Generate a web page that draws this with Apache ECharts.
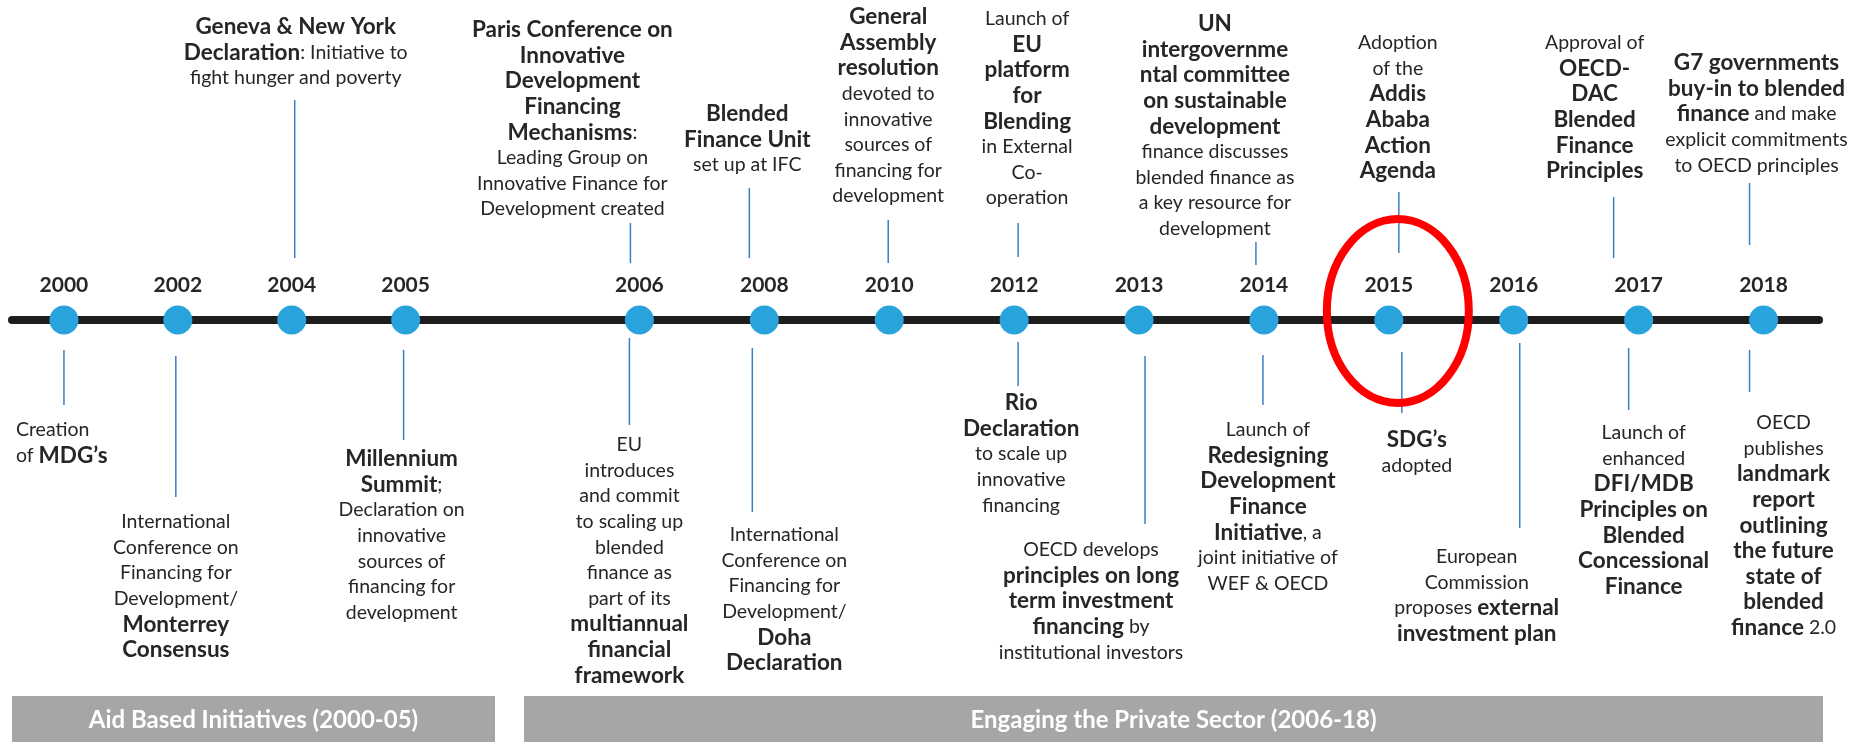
<!DOCTYPE html>
<html><head><meta charset="utf-8">
<script src="https://cdn.jsdelivr.net/npm/echarts@6/dist/echarts.min.js"></script>
<style>html,body{margin:0;padding:0;background:#fff}#c{width:1856px;height:742px}</style>
</head><body><div id="c"></div>
<script>
// ---------- DATA ----------
// Two eras, each drawn as its own timeline panel
const eraNames = ['Aid Based Initiatives (2000-05)', 'Engaging the Private Sector (2006-18)'];
const eraYears = [
  ['2000','2002','2004','2005'],
  ['2006','2008','2010','2012','2013','2014','2015','2016','2017','2018']
];

const aboveYears = ['2004','2006','2008','2010','2012','2014','2015','2017','2018'];
const aboveTexts = [
  ['{b|Geneva & New York}', '{b|Declaration}: Initiative to', 'fight hunger and poverty'],
  ['{b|Paris Conference on}', '{b|Innovative}', '{b|Development}', '{b|Financing}', '{b|Mechanisms}:', 'Leading Group on', 'Innovative Finance for', 'Development created'],
  ['{b|Blended}', '{b|Finance Unit}', 'set up at IFC'],
  ['{b|General}', '{b|Assembly}', '{b|resolution}', 'devoted to', 'innovative', 'sources of', 'financing for', 'development'],
  ['Launch of', '{b|EU}', '{b|platform}', '{b|for}', '{b|Blending}', 'in External', 'Co-', 'operation'],
  ['{b|UN}', '{b|intergovernme}', '{b|ntal committee}', '{b|on sustainable}', '{b|development}', 'finance discusses', 'blended finance as', 'a key resource for', 'development'],
  ['Adoption', 'of the', '{b|Addis}', '{b|Ababa}', '{b|Action}', '{b|Agenda}'],
  ['Approval of', '{b|OECD-}', '{b|DAC}', '{b|Blended}', '{b|Finance}', '{b|Principles}'],
  ['{b|G7 governments}', '{b|buy-in to blended}', '{b|finance} and make', 'explicit commitments', 'to OECD principles']
];

const belowYears = ['2000','2002','2005','2006','2008','2012','2013','2014','2015','2016','2017','2018'];
const belowTexts = [
  ['Creation', 'of {b|MDG\u2019s}'],
  ['International', 'Conference on', 'Financing for', 'Development/', '{b|Monterrey}', '{b|Consensus}'],
  ['{b|Millennium}', '{b|Summit};', 'Declaration on', 'innovative', 'sources of', 'financing for', 'development'],
  ['EU', 'introduces', 'and commit', 'to scaling up', 'blended', 'finance as', 'part of its', '{b|multiannual}', '{b|financial}', '{b|framework}'],
  ['International', 'Conference on', 'Financing for', 'Development/', '{b|Doha}', '{b|Declaration}'],
  ['{b|Rio}', '{b|Declaration}', 'to scale up', 'innovative', 'financing'],
  ['OECD develops', '{b|principles on long}', '{b|term investment}', '{b|financing} by', 'institutional investors'],
  ['Launch of', '{b|Redesigning}', '{b|Development}', '{b|Finance}', '{b|Initiative}, a', 'joint initiative of', 'WEF & OECD'],
  ['{b|SDG\u2019s}', 'adopted'],
  ['European', 'Commission', 'proposes {b|external}', '{b|investment plan}'],
  ['Launch of', 'enhanced', '{b|DFI/MDB}', '{b|Principles on}', '{b|Blended}', '{b|Concessional}', '{b|Finance}'],
  ['OECD', 'publishes', '{b|landmark}', '{b|report}', '{b|outlining}', '{b|the future}', '{b|state of}', '{b|blended}', '{b|finance} 2.0']
];

const highlightYear = '2015';

// ---------- LAYOUT (pixel offsets relative to each dot) ----------
// dx: text centre offset, ty: first line centre, c1/c2: connector ends, cdx: connector x offset
const aboveLayout = [
  {dx:4,   ty:-293, c1:-220, c2:-62, cdx:3},
  {dx:-67, ty:-290, c1:-97,  c2:-57, cdx:-9},
  {dx:-17, ty:-206, c1:-132, c2:-62, cdx:-15},
  {dx:-1,  ty:-303, c1:-100, c2:-57, cdx:-1},
  {dx:13,  ty:-301, c1:-97,  c2:-63, cdx:4},
  {dx:-49, ty:-296, c1:-78,  c2:-55, cdx:-8},
  {dx:9,   ty:-277, c1:-128, c2:-67, cdx:10},
  {dx:-44, ty:-277, c1:-123, c2:-62, cdx:-25},
  {dx:-7,  ty:-257, c1:-137, c2:-75, cdx:-14}
];
const belowLayout = [
  {dx:-48, ty:110, c1:30, c2:85,  cdx:0, align:'left'},
  {dx:-2,  ty:202, c1:36, c2:177, cdx:-2},
  {dx:-4,  ty:139, c1:30, c2:120, cdx:-2},
  {dx:-10, ty:125, c1:18, c2:105, cdx:-10},
  {dx:20,  ty:215, c1:28, c2:192, cdx:-12},
  {dx:7,   ty:83,  c1:22, c2:66,  cdx:4},
  {dx:-48, ty:230, c1:36, c2:204, cdx:6},
  {dx:4,   ty:110, c1:35, c2:85,  cdx:-1},
  {dx:28,  ty:120, c1:32, c2:93,  cdx:13},
  {dx:-37, ty:237, c1:23, c2:208, cdx:6},
  {dx:5,   ty:113, c1:28, c2:90,  cdx:-10},
  {dx:20,  ty:103, c1:30, c2:72,  cdx:-14}
];
const eraBandPad = [[0, -22], [7, 4]];

const FONT = 'Lato';
const LH = 25.6;
const TEXT_COLOR = '#262626';
const DOT_COLOR = '#29a3dc';
const CONN_COLOR = '#3a7fc4';

// ---------- BUILD ----------
function eraOf(year) { return eraYears[0].indexOf(year) >= 0 ? 0 : 1; }
function slotOf(year) { return eraYears[eraOf(year)].indexOf(year); }

const events = [];
aboveYears.forEach((y, i) => events.push({year:y, lines:aboveTexts[i], lay:aboveLayout[i]}));
belowYears.forEach((y, i) => events.push({year:y, lines:belowTexts[i], lay:belowLayout[i]}));

const axisLineStyle = {show:true, onZero:true, lineStyle:{color:'#1e1e1e', width:8}};
const xAxisBase = {type:'value', splitLine:{show:false}, axisTick:{show:false}, axisLabel:{show:false}, axisLine:axisLineStyle};

const series = [];
[0, 1].forEach(era => {
  // era band
  series.push({
    type: 'custom', z: 1, xAxisIndex: era, yAxisIndex: era,
    data: [[0, 0, era]],
    encode: {x: 0, y: 1},
    renderItem: function (params, api) {
      const cs = params.coordSys;
      const i = api.value(2);
      const ly = api.coord([0, 0])[1];
      const x1 = cs.x + eraBandPad[i][0], x2 = cs.x + cs.width + eraBandPad[i][1];
      return {type:'group', children:[
        {type:'rect', shape:{x:x1, y:ly+376, width:x2-x1, height:50}, style:{fill:'#a6a6a6'}},
        {type:'text', x:(x1+x2)/2, y:ly+400, style:{text:eraNames[i], fill:'#ffffff', fontFamily:FONT, fontWeight:'bold', fontSize:24, align:'center', verticalAlign:'middle'}}
      ]};
    }
  });
  // annotations + connectors
  series.push({
    type: 'custom', z: 2, xAxisIndex: era, yAxisIndex: era,
    data: events.map((e, i) => [slotOf(e.year), 0, i]).filter((d, i) => eraOf(events[i].year) === era),
    encode: {x: 0, y: 1},
    renderItem: function (params, api) {
      const ev = events[api.value(2)];
      const p = api.coord([api.value(0), 0]);
      const L = ev.lay;
      const cx = p[0] + L.cdx;
      return {type:'group', children:[
        {type:'line', shape:{x1:cx, y1:p[1]+L.c1, x2:cx, y2:p[1]+L.c2}, style:{stroke:CONN_COLOR, lineWidth:1.5}},
        {type:'text', x:p[0]+L.dx, y:p[1]+L.ty-LH/2, style:{
          text: ev.lines.join('\n'), fill:TEXT_COLOR, fontFamily:FONT, fontSize:19.5, lineHeight:LH,
          align: L.align || 'center', verticalAlign:'top',
          rich: {b: {fontWeight:'bold', fontFamily:FONT, fontSize:22.5, lineHeight:LH, fill:TEXT_COLOR}}
        }}
      ]};
    }
  });
  // dots + year labels
  series.push({
    type: 'scatter', z: 3, xAxisIndex: era, yAxisIndex: era,
    data: eraYears[era].map((y, i) => ({name: y, value: [i, 0]})),
    symbolSize: 29,
    itemStyle: {color: DOT_COLOR, opacity: 1},
    label: {show:true, position:'top', distance:10, formatter: p => p.name,
      fontFamily:FONT, fontWeight:'bold', fontSize:21, color:TEXT_COLOR}
  });
});
// highlight ellipse
series.push({
  type: 'custom', z: 4, xAxisIndex: eraOf(highlightYear), yAxisIndex: eraOf(highlightYear),
  data: [[slotOf(highlightYear), 0]],
  encode: {x: 0, y: 1},
  renderItem: function (params, api) {
    const p = api.coord([api.value(0), 0]);
    return {type:'ellipse', shape:{cx:p[0]+9, cy:p[1]-9, rx:71, ry:92}, style:{fill:null, stroke:'#ff0000', lineWidth:8}};
  }
});

const chart = echarts.init(document.getElementById('c'), null, {renderer:'canvas'});
chart.setOption({
  animation: false,
  backgroundColor: '#ffffff',
  grid: [
    {left: 12, width: 505, top: 0, bottom: 0},
    {left: 517, right: 37, top: 0, bottom: 0}
  ],
  xAxis: [
    Object.assign({gridIndex:0, min:-0.456, max:3.978}, xAxisBase),
    Object.assign({gridIndex:1, min:-0.980, max:9.444}, xAxisBase)
  ],
  yAxis: [
    {gridIndex:0, type:'value', min:-422, max:320, show:false},
    {gridIndex:1, type:'value', min:-422, max:320, show:false}
  ],
  series: series
});
</script>
</body></html>
